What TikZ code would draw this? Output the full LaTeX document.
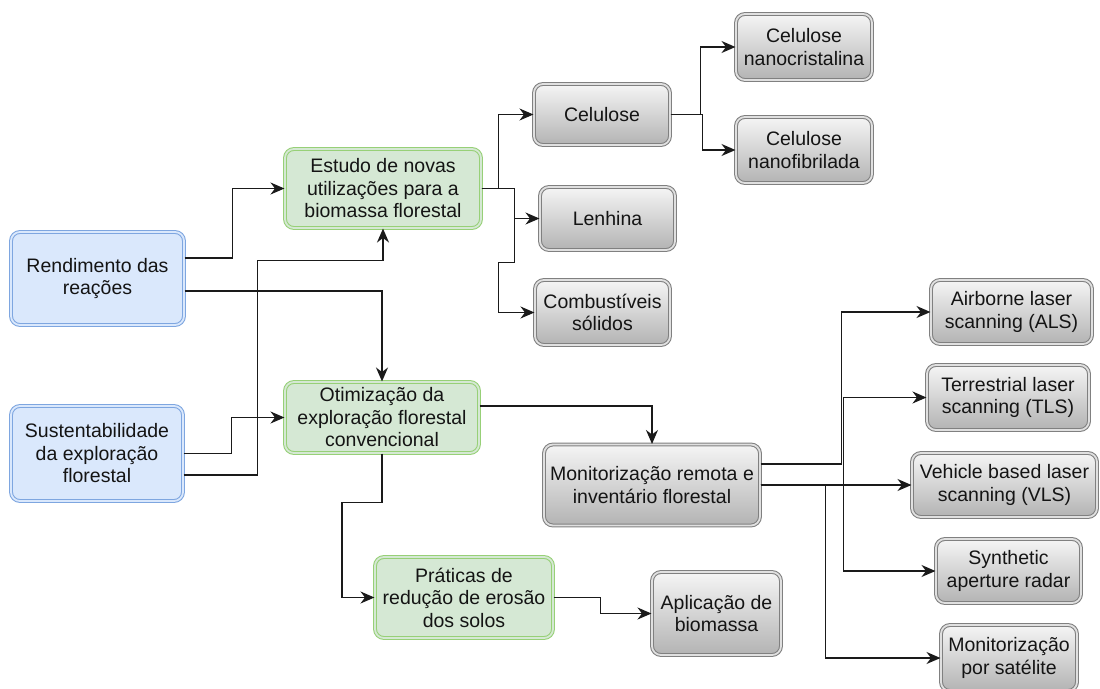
\documentclass[tikz,border=0pt]{standalone}
\usepackage{fontspec}
\setmainfont{Liberation Sans}
\usetikzlibrary{arrows.meta}
\definecolor{blueF}{HTML}{DAE8FC}
\definecolor{blueB}{HTML}{7EA6E0}
\definecolor{greenF}{HTML}{D5E8D4}
\definecolor{greenB}{HTML}{97D077}
\definecolor{grayB}{HTML}{808080}
\definecolor{grayD}{HTML}{E0E0E0}
\definecolor{grayT}{HTML}{F5F5F5}
\definecolor{grayBt}{HTML}{B3B3B3}
\definecolor{lineC}{HTML}{1A1A1A}
\definecolor{txtC}{HTML}{141414}
\tikzset{
  box/.style={rounded corners=9pt, double distance=1.8pt, line width=1.05pt,
    align=center, inner sep=0pt, text=txtC,
    font=\fontsize{19.5}{22.5}\selectfont},
  bluebox/.style={box, draw=blueB, double=blueF, fill=blueF},
  greenbox/.style={box, draw=greenB, double=greenF, fill=greenF},
  graybox/.style={box, draw=grayB, double=grayD, top color=grayT, bottom color=grayBt},
  arr/.style={draw=lineC, line width=1.5pt, -{Stealth[length=14pt,width=12pt,inset=4.5pt]}}
}
\begin{document}
\begin{tikzpicture}[x=1pt,y=-1pt]
\useasboundingbox[fill=white] (0,0) rectangle (1100,688);
% left
\node[bluebox, minimum width=173pt, minimum height=93pt] (rend) at (97.5,278.5) {Rendimento das\\reações};
\node[bluebox, minimum width=172pt, minimum height=95pt] (sust) at (97,453.5) {Sustentabilidade\\da exploração\\florestal};
% green
\node[greenbox, minimum width=196pt, minimum height=79pt] (estudo) at (383,188.5) {Estudo de novas\\utilizações para a\\biomassa florestal};
\node[greenbox, minimum width=194pt, minimum height=71pt] (otim) at (382,417.5) {Otimização da\\exploração florestal\\convencional};
\node[greenbox, minimum width=178pt, minimum height=81pt] (prat) at (464,597.5) {Práticas de\\redução de erosão\\dos solos};
% gray
\node[graybox, minimum width=136pt, minimum height=61pt] (celu) at (602,114.5) {Celulose};
\node[graybox, minimum width=135pt, minimum height=63pt] (lenh) at (607.5,218.5) {Lenhina};
\node[graybox, minimum width=135pt, minimum height=65pt] (comb) at (602.5,312.5) {Combustíveis\\sólidos};
\node[graybox, minimum width=136pt, minimum height=66pt] (nanoc) at (804,47) {Celulose\\nanocristalina};
\node[graybox, minimum width=136pt, minimum height=66pt] (nanof) at (804,150) {Celulose\\nanofibrilada};
\node[graybox, minimum width=216pt, minimum height=81pt] (monit) at (652,485) {Monitorização remota e\\inventário florestal};
\node[graybox, minimum width=129pt, minimum height=83pt] (aplic) at (716.5,613.5) {Aplicação de\\biomassa};
\node[graybox, minimum width=161pt, minimum height=64pt] (als) at (1011.5,312) {Airborne laser\\scanning (ALS)};
\node[graybox, minimum width=162pt, minimum height=65pt] (tls) at (1008,397.5) {Terrestrial laser\\scanning (TLS)};
\node[graybox, minimum width=185pt, minimum height=64pt] (vls) at (1004.5,485) {Vehicle based laser\\scanning (VLS)};
\node[graybox, minimum width=145pt, minimum height=64pt] (sar) at (1008.5,571) {Synthetic\\aperture radar};
\node[graybox, minimum width=136pt, minimum height=66pt] (sat) at (1009,658) {Monitorização\\por satélite};
% connectors
\draw[arr] ([yshift=20.5pt]rend.east) -- ++(48,0) |- (estudo.west);
\draw[arr] ([yshift=-12.5pt]rend.east) -| (otim.north);
\draw[arr] (sust.east) -- ++(48,0) |- (otim.west);
\draw[arr] ([yshift=-21.5pt]sust.east) -- ++(74,0) |- ([yshift=-32pt]estudo.south) -- (estudo.south);
\draw[arr] (estudo.east) -- ++(17,0) |- (celu.west);
\draw[arr] (estudo.east) -- ++(33,0) |- (lenh.west);
\draw[arr] (estudo.east) -- ++(33,0) -- ++(0,74) -- ++(-16,0) |- (comb.west);
\draw[arr] (celu.east) -- ++(30,0) |- (nanoc.west);
\draw[arr] (celu.east) -- ++(32,0) |- (nanof.west);
\draw[arr] ([yshift=11.5pt]otim.east) -| (monit.north);
\draw[arr] (otim.south) -- ++(0,49) -- ++(-40,0) |- (prat.west);
\draw[arr] (prat.east) -- ++(47,0) |- (aplic.west);
\draw[arr] ([yshift=21pt]monit.east) -- ++(81,0) |- (als.west);
\draw[arr] (monit.east) -- ++(83,0) |- (tls.west);
\draw[arr] (monit.east) -- (vls.west);
\draw[arr] (monit.east) -- ++(83,0) |- (sar.west);
\draw[arr] (monit.east) -- ++(65,0) |- (sat.west);
\end{tikzpicture}
\end{document}
